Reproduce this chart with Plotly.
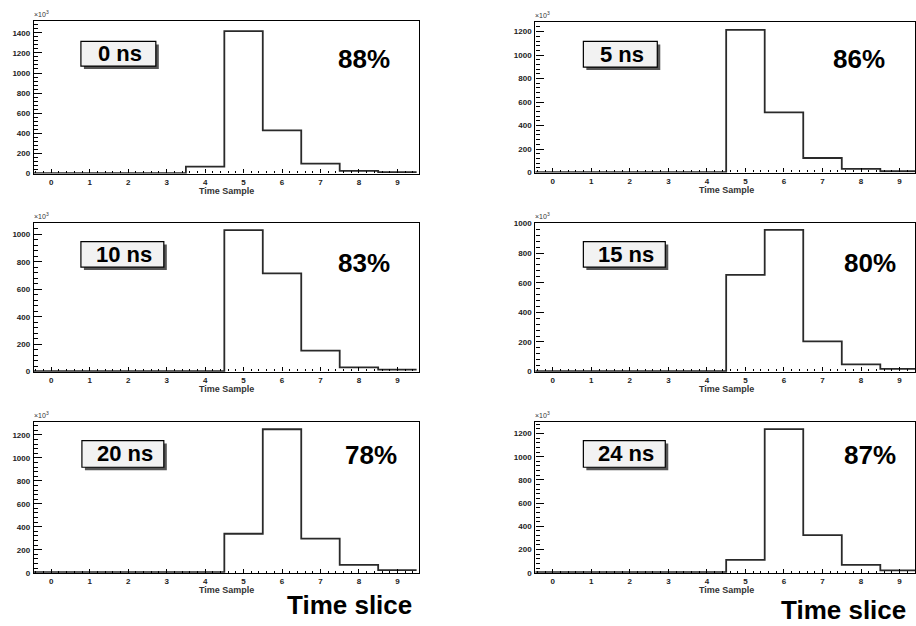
import numpy as np
import plotly.graph_objects as go

# ---- data ----
time_samples = [0, 1, 2, 3, 4, 5, 6, 7, 8, 9]
delays = ["0 ns", "5 ns", "10 ns", "15 ns", "20 ns", "24 ns"]
percents = ["88%", "86%", "83%", "80%", "78%", "87%"]

counts_0ns = [4, 4, 4, 4, 68, 1416, 430, 98, 26, 14]
counts_5ns = [4, 4, 4, 4, 4, 1214, 513, 124, 31, 11]
counts_10ns = [4, 4, 4, 4, 4, 1031, 716, 153, 31, 14]
counts_15ns = [4, 4, 4, 4, 4, 653, 956, 204, 49, 18]
counts_20ns = [4, 4, 4, 4, 4, 339, 1249, 296, 69, 23]
counts_24ns = [4, 4, 4, 4, 4, 111, 1237, 324, 68, 20]
all_counts = [counts_0ns, counts_5ns, counts_10ns, counts_15ns, counts_20ns, counts_24ns]
y_max = [1520, 1284, 1084, 1004, 1313, 1300]

W, H = 916, 626

def px(x):
    return x / W

def py(y):
    return 1 - y / H

# panel frames in pixels: (left, right, top, bottom)
frames = [
    (34, 419, 17, 172), (536, 916, 18, 171),
    (34, 419, 222, 373), (536, 916, 222, 373),
    (34, 419, 424, 577), (536, 916, 424, 577),
]
x_ranges = [[-0.45, 9.55], [-0.45, 9.4]] * 3
boxes = [
    (81, 156, 38, 63), (584, 658, 38, 64),
    (81, 164, 241, 267), (584, 666, 241, 267),
    (82, 164, 443, 470), (584, 666, 443, 470),
]
pct_pos = [(364, 56), (860, 56), (364, 263), (871, 263), (371, 458), (871, 458)]

fig = go.Figure()
shapes = []
annotations = []
FONT = "Liberation Sans, Arial, sans-serif"
tickfont = dict(family=FONT, size=8, color="#222", weight="bold")

for i in range(6):
    l, r, t, b = frames[i]
    ax = "" if i == 0 else str(i + 1)
    xa = "x" + ax
    ya = "y" + ax
    counts = all_counts[i]
    edges = [s - 0.5 for s in time_samples] + [time_samples[-1] + 0.5]
    yvals = counts + [counts[-1]]
    fig.add_trace(go.Scatter(
        x=edges, y=yvals, mode="lines", line=dict(shape="hv", color="#2a2a2a", width=1.8),
        xaxis=xa, yaxis=ya, showlegend=False, hoverinfo="skip",
    ))
    fig.update_layout(**{
        ("xaxis" + ax): dict(
            domain=[px(l), px(r)], range=x_ranges[i], anchor=ya,
            tickvals=time_samples, ticks="inside", ticklen=4, tickwidth=1.2, tickcolor="black",
            minor=dict(dtick=0.2, ticks="inside", ticklen=2, tickwidth=1, tickcolor="black", showgrid=False),
            showline=True, linecolor="black", linewidth=1.3, mirror=True,
            showgrid=False, zeroline=False, tickfont=tickfont, ticklabelstandoff=1,
        ),
        ("yaxis" + ax): dict(
            domain=[py(b), py(t)], range=[0, y_max[i]], anchor=xa,
            dtick=200, tick0=0, ticks="inside", ticklen=8, tickwidth=1.2, tickcolor="black",
            minor=dict(dtick=40, ticks="inside", ticklen=4, tickwidth=1, tickcolor="black", showgrid=False),
            showline=True, linecolor="black", linewidth=1.3, mirror=True,
            showgrid=False, zeroline=False, tickfont=tickfont, ticklabelstandoff=1,
        ),
    })
    # x-axis title
    cxp = 227 if i % 2 == 0 else 727
    annotations.append(dict(
        text="<b>Time Sample</b>", x=px(cxp), y=py(b + 18), xref="paper", yref="paper",
        xanchor="center", yanchor="middle", showarrow=False,
        font=dict(family=FONT, size=9, color="#333"),
    ))
    # x10^3 label
    annotations.append(dict(
        text="×10<sup>3</sup>", x=px(l - 2), y=py(t - 1), xref="paper", yref="paper",
        xanchor="left", yanchor="bottom", showarrow=False,
        font=dict(family=FONT, size=7, color="#333"),
    ))
    # label box with shadow
    bl, br, bt, bb = boxes[i]
    shapes.append(dict(type="rect", xref="paper", yref="paper",
                       x0=px(bl + 3), x1=px(br + 3), y0=py(bb + 3), y1=py(bt + 3),
                       fillcolor="#555", line=dict(width=0), layer="above"))
    shapes.append(dict(type="rect", xref="paper", yref="paper",
                       x0=px(bl), x1=px(br), y0=py(bb), y1=py(bt),
                       fillcolor="#f2f2f2", line=dict(color="black", width=1.2), layer="above"))
    annotations.append(dict(
        text="<b>" + delays[i] + "</b>", x=px((bl + br) / 2 + 2), y=py((bt + bb) / 2),
        xref="paper", yref="paper", xanchor="center", yanchor="middle", showarrow=False,
        font=dict(family=FONT, size=22, color="black"),
    ))
    # percentage
    cx, cy = pct_pos[i]
    annotations.append(dict(
        text="<b>" + percents[i] + "</b>", x=px(cx), y=py(cy), xref="paper", yref="paper",
        xanchor="center", yanchor="middle", showarrow=False,
        font=dict(family=FONT, size=26, color="black"),
    ))

# "Time slice" labels
annotations.append(dict(text="<b>Time slice</b>", x=px(350), y=py(610), xref="paper", yref="paper",
                        xanchor="center", yanchor="middle", showarrow=False,
                        font=dict(family=FONT, size=26, color="black")))
annotations.append(dict(text="<b>Time slice</b>", x=px(844), y=py(615), xref="paper", yref="paper",
                        xanchor="center", yanchor="middle", showarrow=False,
                        font=dict(family=FONT, size=26, color="black")))

fig.update_layout(
    width=W, height=H, margin=dict(l=0, r=0, t=0, b=0, pad=0),
    paper_bgcolor="white", plot_bgcolor="white",
    shapes=shapes, annotations=annotations,
)

fig.write_html("out.html", config={"displayModeBar": False},
               post_script="document.body.style.margin='0';document.body.style.padding='0';")
